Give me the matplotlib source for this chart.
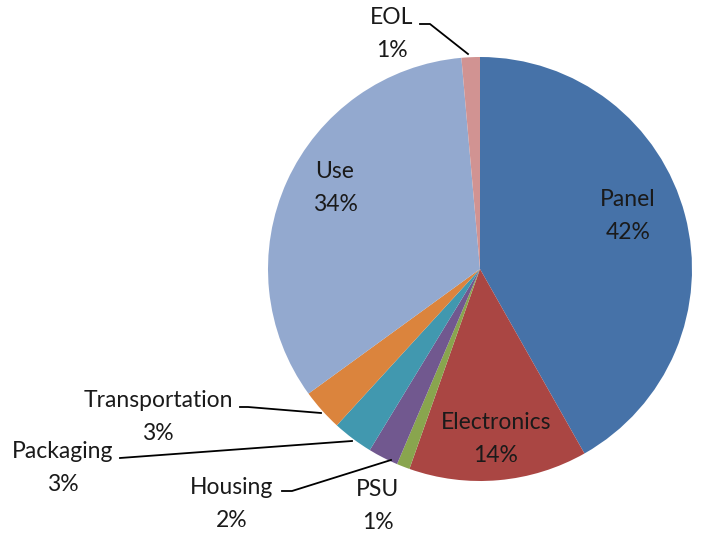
import matplotlib
matplotlib.use("Agg")
import matplotlib.pyplot as plt

# data (clockwise from 12 o'clock)
labels = ["Panel", "Electronics", "PSU", "Housing", "Packaging",
          "Transportation", "Use", "EOL"]
shares = [41.8, 13.6, 1.0, 2.3, 3.1, 3.2, 33.6, 1.4]
colors = ["#4672A8", "#AA4643", "#89A54E", "#71588F", "#4198AF",
          "#DB843D", "#93A9CF", "#D19392"]

# pixel geometry of the reference
W, H = 702, 550
CX, CY, R = 480, 269, 212


def to_data(px, py):
    return (px - CX) / R, (CY - py) / R


fig = plt.figure(figsize=(W / 100, H / 100), dpi=100)
ax = fig.add_axes([(CX - R) / W, (H - CY - R) / H, 2 * R / W, 2 * R / H])
ax.pie(shares, colors=colors, startangle=90, counterclock=False, radius=1,
       wedgeprops=dict(linewidth=0))
ax.set_xlim(-1, 1)
ax.set_ylim(-1, 1)
ax.set_aspect("equal")
ax.axis("off")

# label text positions (pixel centers of name line) and leader lines
label_pos = {
    "Panel": (628, 200),
    "Electronics": (496, 423),
    "PSU": (378, 490),
    "Housing": (232, 488),
    "Packaging": (63, 452),
    "Transportation": (158, 401),
    "Use": (335, 172),
    "EOL": (392, 18),
}
leaders = {
    "EOL": [(420, 24), (430, 24), (468, 54)],
    "Transportation": [(240, 407), (248, 407), (321, 413)],
    "Packaging": [(120, 458), (352, 441)],
    "Housing": [(282, 491), (292, 491), (391, 460)],
}

for name, val in zip(labels, shares):
    px, py = label_pos[name]
    x, y = to_data(px, py + 16)
    ax.text(x, y, "%s\n%d%%" % (name, round(val)), ha="center", va="center",
            fontsize=16.5, family="Lato", color="#1a1a1a", linespacing=1.75,
            clip_on=False)
    if name in leaders:
        pts = [to_data(*p) for p in leaders[name]]
        ax.plot([p[0] for p in pts], [p[1] for p in pts], color="black",
                lw=1.3, clip_on=False)

fig.savefig("out.png", dpi=100)
